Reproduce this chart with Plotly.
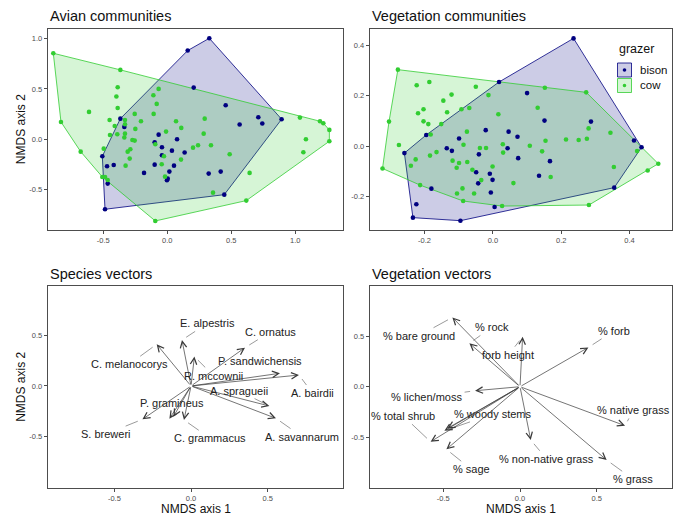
import plotly.graph_objects as go

# ---------------------------------------------------------------- data
# NMDS site scores, avian communities
bird_bison_x = [0.328, 0.159, 0.206, 0.456, 0.711, 0.565, 0.742, 0.893, -0.367, -0.336,
                -0.068, 0.076, -0.099, -0.042, 0.036, 0.135, -0.042, -0.099, 0.052, 0.016,
                0.003, -0.003, -0.182, -0.419, -0.471, -0.508, -0.466, -0.487, 0.323, 0.417,
                0.445]
bird_bison_y = [1.003, 0.881, 0.513, 0.338, 0.219, 0.146, 0.156, 0.199, 0.205, 0.123,
                0.046, 0.000, -0.030, -0.079, -0.113, -0.132, -0.159, -0.252, -0.262, -0.321,
                -0.391, -0.407, -0.334, -0.255, -0.268, -0.169, -0.440, -0.695, -0.341, -0.321,
                -0.550]
bird_cow_x = [-0.891, -0.367, -0.831, -0.677, -0.612, -0.388, -0.398, -0.388, -0.451, -0.411,
              -0.448, -0.391, -0.331, -0.331, -0.331, -0.336, -0.250, -0.273, -0.255, -0.255,
              -0.206, -0.289, -0.310, -0.294, -0.326, -0.497, -0.508, -0.487, -0.466, -0.109,
              -0.068, -0.083, -0.107, -0.010, 0.068, 0.109, -0.094, -0.026, -0.044, -0.018,
              0.107, 0.201, 0.240, 0.284, 0.292, 0.341, 0.487, 0.357, 0.643, 0.617,
              -0.094, 1.036, 1.193, 1.219, 1.266, 1.266, 1.083, 1.063]
bird_cow_y = [0.854, 0.689, 0.172, -0.123, 0.272, 0.517, 0.424, 0.311, 0.192, 0.132,
              0.043, 0.050, 0.192, 0.149, 0.056, 0.017, 0.103, -0.007, -0.013, 0.252,
              0.179, -0.099, -0.123, -0.192, -0.262, -0.093, -0.374, -0.374, -0.404, 0.437,
              0.500, 0.351, 0.252, 0.076, 0.179, 0.113, -0.050, -0.169, -0.248, -0.371,
              -0.202, -0.083, -0.060, 0.056, 0.205, -0.060, -0.149, -0.530, -0.334, -0.609,
              -0.811, 0.215, 0.179, 0.159, 0.093, -0.020, 0.000, -0.129]

# NMDS site scores, vegetation communities
veg_bison_x = [0.236, 0.018, 0.100, 0.151, 0.287, 0.413, 0.435, 0.355, -0.195, -0.259,
               -0.021, -0.099, -0.135, -0.120, -0.041, -0.049, -0.043, -0.009, -0.001, -0.006,
               0.046, 0.043, 0.072, 0.074, 0.167, 0.135, -0.180, -0.224, -0.234, -0.095,
               0.005]
veg_bison_y = [0.427, 0.254, 0.210, 0.101, 0.097, 0.022, -0.005, -0.165, 0.044, -0.028,
               0.063, 0.030, -0.009, -0.019, -0.033, -0.104, -0.148, -0.110, -0.134, -0.184,
               0.057, -0.009, 0.037, -0.048, -0.060, -0.118, -0.169, -0.231, -0.284, -0.296,
               -0.242]
veg_cow_x = [-0.278, -0.304, -0.275, -0.323, -0.223, -0.186, -0.121, -0.145, -0.203, -0.219,
             -0.134, -0.203, -0.189, -0.151, -0.092, -0.069, -0.050, -0.013, 0.016, -0.182,
             -0.226, -0.240, -0.165, -0.184, -0.213, -0.086, -0.076, -0.075, -0.118, -0.099,
             -0.106, -0.060, -0.034, -0.001, -0.038, -0.020, 0.029, 0.030, 0.060, -0.105,
             -0.089, -0.055, -0.087, 0.027, 0.108, 0.131, 0.152, 0.154, 0.144, 0.169,
             0.214, 0.251, 0.275, 0.280, 0.273, 0.344, 0.354, 0.422, 0.453, 0.484,
             0.281]
veg_cow_y = [0.303, 0.097, 0.004, -0.089, 0.241, 0.254, 0.204, 0.180, 0.146, 0.130,
             0.134, 0.098, 0.087, 0.087, 0.146, 0.151, 0.235, 0.202, 0.126, 0.046,
             -0.053, -0.078, -0.024, -0.038, -0.155, 0.005, 0.057, -0.063, -0.058, -0.067,
             -0.086, -0.094, -0.135, -0.081, -0.008, -0.008, 0.007, -0.026, -0.147, -0.188,
             -0.168, -0.188, -0.218, -0.238, 0.001, 0.152, 0.231, 0.021, -0.021, -0.123,
             0.026, 0.024, 0.029, 0.070, 0.213, 0.053, -0.083, -0.020, -0.097, -0.070,
             -0.234]

# species fitted vectors (arrow tips); "" = vector without a label
species = ["E. alpestris", "C. ornatus", "C. melanocorys", "P. sandwichensis", "R. mccownii",
           "A. bairdii", "A. spragueii", "P. gramineus", "S. breweri", "C. grammacus",
           "A. savannarum", ""]
species_x = [-0.059, 0.352, -0.224, 0.580, 0.022, 0.704, 0.511, -0.115, -0.317, -0.046, 0.554, -0.141]
species_y = [0.452, 0.377, 0.410, 0.125, 0.289, 0.108, -0.197, -0.302, -0.328, -0.334, -0.318, -0.321]

# vegetation fitted vectors (arrow tips)
veg_vars = ["% bare ground", "% rock", "forb height", "% forb", "% lichen/moss", "% woody stems",
            "% total shrub", "% sage", "% non-native grass", "% native grass", "% grass", ""]
vegvec_x = [-0.441, -0.330, 0.017, 0.446, -0.293, -0.493, -0.583, -0.480, 0.070, 0.685, 0.565, -0.474]
vegvec_y = [0.686, 0.429, 0.495, 0.389, -0.040, -0.436, -0.545, -0.620, -0.528, -0.386, -0.726, -0.413]

# repelled label placement (label centre, whether a leader segment is drawn)
species_label_at = {
    "E. alpestris": (0.107, 0.616, True), "C. ornatus": (0.520, 0.534, True),
    "C. melanocorys": (-0.404, 0.213, True), "P. sandwichensis": (0.452, 0.246, False),
    "R. mccownii": (0.146, 0.102, True), "A. bairdii": (0.793, -0.072, True),
    "A. spragueii": (0.311, -0.046, True), "P. gramineus": (-0.126, -0.164, False),
    "S. breweri": (-0.554, -0.472, True), "C. grammacus": (0.126, -0.515, True),
    "A. savannarum": (0.724, -0.498, True),
}
veg_label_at = {
    "% bare ground": (-0.659, 0.505, True), "% rock": (-0.185, 0.587, True),
    "forb height": (-0.076, 0.314, True), "% forb": (0.613, 0.554, True),
    "% lichen/moss": (-0.609, -0.106, True), "% woody stems": (-0.178, -0.271, True),
    "% total shrub": (-0.761, -0.290, True), "% sage": (-0.317, -0.818, True),
    "% non-native grass": (0.174, -0.716, True), "% native grass": (0.739, -0.231, True),
    "% grass": (0.739, -0.917, True),
}

groups = ["bison", "cow"]
group_colors = {"bison": "#000080", "cow": "#32CD32"}
group_fills = {"bison": "rgba(0,0,128,0.2)", "cow": "rgba(50,205,50,0.2)"}

tick_top_left = [-0.5, 0.0, 0.5, 1.0]
tick_top_right = [-0.2, 0.0, 0.2, 0.4]
tick_vectors = [-0.5, 0.0, 0.5]

# ---------------------------------------------------------------- helpers
W, H = 678, 517
FONT = "Arial, Liberation Sans, sans-serif"


def px(x):
    return x / W


def py(y):
    return 1 - y / H


def convex_hull(xs, ys):
    pts = sorted(set(zip(xs, ys)))

    def cross(o, a, b):
        return (a[0] - o[0]) * (b[1] - o[1]) - (a[1] - o[1]) * (b[0] - o[0])

    lower, upper = [], []
    for p in pts:
        while len(lower) >= 2 and cross(lower[-2], lower[-1], p) <= 0:
            lower.pop()
        lower.append(p)
    for p in reversed(pts):
        while len(upper) >= 2 and cross(upper[-2], upper[-1], p) <= 0:
            upper.pop()
        upper.append(p)
    h = lower[:-1] + upper[:-1]
    h.append(h[0])
    return [p[0] for p in h], [p[1] for p in h]


def fmt(v):
    return f"{v:.1f}"


fig = go.Figure()

# ---------------------------------------------------------------- hulls + points
site_sets = [
    ("x", "y", {"bison": (bird_bison_x, bird_bison_y), "cow": (bird_cow_x, bird_cow_y)}),
    ("x2", "y2", {"bison": (veg_bison_x, veg_bison_y), "cow": (veg_cow_x, veg_cow_y)}),
]
for xa, ya, sets in site_sets:
    for g in groups:
        hx, hy = convex_hull(*sets[g])
        fig.add_trace(go.Scatter(x=hx, y=hy, mode="lines", fill="toself",
                                 fillcolor=group_fills[g],
                                 line=dict(color=group_colors[g], width=0.8),
                                 xaxis=xa, yaxis=ya, showlegend=False, hoverinfo="skip"))
    for g in groups:
        sx, sy = sets[g]
        fig.add_trace(go.Scatter(x=sx, y=sy, mode="markers",
                                 marker=dict(color=group_colors[g], size=4.6, line=dict(width=0)),
                                 xaxis=xa, yaxis=ya, showlegend=False, name=g))

# ---------------------------------------------------------------- vectors
annotations = []
ARROW_COL = "#3a3a3a"
for names, vx, vy, labels_at, xa, ya in [
    (species, species_x, species_y, species_label_at, "x3", "y3"),
    (veg_vars, vegvec_x, vegvec_y, veg_label_at, "x4", "y4"),
]:
    for name, x, y in zip(names, vx, vy):
        annotations.append(dict(
            x=x, y=y, ax=0, ay=0, xref=xa, yref=ya, axref=xa, ayref=ya,
            text="", showarrow=True, arrowhead=5, arrowsize=1.8, arrowwidth=0.7,
            arrowcolor=ARROW_COL, standoff=0, startstandoff=0))
        if not name:
            continue
        lx, ly, seg = labels_at[name]
        if seg:
            annotations.append(dict(
                x=x, y=y, ax=lx, ay=ly, xref=xa, yref=ya, axref=xa, ayref=ya,
                text=name, showarrow=True, arrowhead=0, arrowwidth=0.6,
                arrowcolor="#555555", standoff=5, startstandoff=1, borderpad=1,
                font=dict(family=FONT, size=11, color="#222222")))
        else:
            annotations.append(dict(
                x=lx, y=ly, xref=xa, yref=ya, text=name, showarrow=False,
                font=dict(family=FONT, size=11, color="#222222")))

# ---------------------------------------------------------------- panel titles / axis titles
titles = [("Avian communities", 47.8, 16.5), ("Vegetation communities", 369.5, 16.5),
          ("Species vectors", 47.8, 274), ("Vegetation vectors", 369.5, 274)]
for t, x, y in titles:
    annotations.append(dict(x=px(x), y=py(y), xref="paper", yref="paper", text=t,
                            showarrow=False, xanchor="left", yanchor="middle",
                            font=dict(family=FONT, size=14.5, color="#111111")))

for y in [(28.8 + 229.5) / 2, (286 + 487.7) / 2]:
    annotations.append(dict(x=px(21), y=py(y), xref="paper", yref="paper", text="NMDS axis 2",
                            showarrow=False, textangle=-90, xanchor="center", yanchor="middle",
                            font=dict(family=FONT, size=12, color="#111111")))
for x in [(47.8 + 343.3) / 2, (369.7 + 672.3) / 2]:
    annotations.append(dict(x=px(x), y=py(509), xref="paper", yref="paper", text="NMDS axis 1",
                            showarrow=False, xanchor="center", yanchor="middle",
                            font=dict(family=FONT, size=12, color="#111111")))

# ---------------------------------------------------------------- legend (drawn by hand)
shapes = []
annotations.append(dict(x=px(616.5), y=py(49.5), xref="paper", yref="paper", text="grazer",
                        showarrow=False, xanchor="left", yanchor="middle",
                        font=dict(family=FONT, size=12.5, color="#111111")))
for i, g in enumerate(groups):
    cy = 70 + i * 15.5
    shapes.append(dict(type="rect", xref="paper", yref="paper",
                       x0=px(617.5), x1=px(631.5), y0=py(cy + 7), y1=py(cy - 7),
                       fillcolor=group_fills[g], line=dict(color=group_colors[g], width=0.8)))
    shapes.append(dict(type="circle", xref="paper", yref="paper",
                       x0=px(622.7), x1=px(626.3), y0=py(cy + 1.8), y1=py(cy - 1.8),
                       fillcolor=group_colors[g], line=dict(width=0)))
    annotations.append(dict(x=px(637.5), y=py(cy), xref="paper", yref="paper", text=g,
                            showarrow=False, xanchor="left", yanchor="middle",
                            font=dict(family=FONT, size=11.5, color="#111111")))

# ---------------------------------------------------------------- axes
def axis(domain, rng, ticks, anchor):
    return dict(domain=domain, range=rng, anchor=anchor, tickvals=ticks,
                ticktext=[fmt(v) for v in ticks], showgrid=False, zeroline=False,
                showline=True, mirror=True, linecolor="#4d4d4d", linewidth=1,
                ticks="outside", ticklen=3, tickwidth=1, tickcolor="#4d4d4d",
                tickfont=dict(family=FONT, size=7.5, color="#4d4d4d"), fixedrange=True)


xd_left = [px(47.8), px(343.3)]
xd_right = [px(369.7), px(672.3)]
yd_top = [py(229.5), py(28.8)]
yd_bot = [py(487.7), py(286)]

fig.update_layout(
    width=W, height=H, autosize=False,
    margin=dict(l=0, r=0, t=0, b=0),
    paper_bgcolor="white", plot_bgcolor="white",
    showlegend=False,
    xaxis=axis(xd_left, [-0.934, 1.375], tick_top_left, "y"),
    yaxis=axis(yd_top, [-0.896, 1.097], tick_top_left, "x"),
    xaxis2=axis(xd_right, [-0.3605, 0.525], tick_top_right, "y2"),
    yaxis2=axis(yd_top, [-0.331, 0.465], tick_top_right, "x2"),
    xaxis3=axis(xd_left, [-0.934, 0.993], tick_vectors, "y3"),
    yaxis3=axis(yd_bot, [-1.0, 0.983], tick_vectors, "x3"),
    xaxis4=axis(xd_right, [-0.980, 0.993], tick_vectors, "y4"),
    yaxis4=axis(yd_bot, [-1.0, 0.997], tick_vectors, "x4"),
    annotations=annotations,
    shapes=shapes,
)

fig.write_html("out.html")
